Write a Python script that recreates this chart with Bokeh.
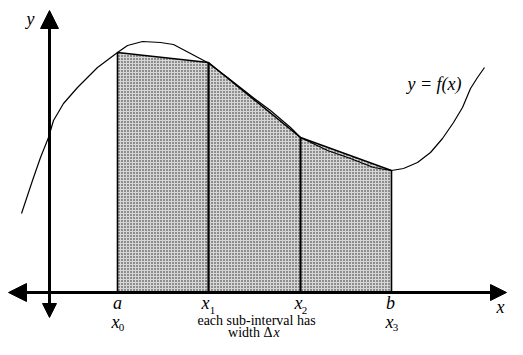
from bokeh.plotting import figure
from bokeh.models import Range1d, Arrow, NormalHead
from bokeh.core.properties import value
from bokeh.embed import file_html
from bokeh.resources import INLINE

# curve y = f(x)
curve_x = [-2.8, -1.7, -0.9, -0.1, 0.4, 1.4, 2.8, 4.8, 6.8, 7.8, 9.3, 11.1, 12.4,
           14.1, 15.8, 17.8, 20.1, 22.1, 24.1, 25.1, 27.8, 30.1, 32.4, 34.2, 35.4,
           36.8, 38.1, 39.3, 40.4, 41.3, 42.1, 42.8, 43.5]
curve_y = [7.9, 11.2, 13.5, 15.5, 17.2, 18.9, 20.5, 22.5, 24.0, 24.7, 25.1, 25.0, 24.8,
           23.9, 23.0, 21.5, 19.7, 18.2, 16.5, 15.5, 14.2, 13.4, 12.5, 12.2, 12.4,
           13.0, 14.0, 15.4, 17.0, 18.5, 20.4, 21.5, 22.5]

# partition points a = x0, x1, x2, b = x3 and trapezoid heights
node_x = [6.8, 15.9, 25.1, 34.2]
node_f = [24.0, 23.0, 15.5, 12.2]
node_w = [1.6, 2.2, 2.0, 1.6]

SERIF = value("Liberation Serif")

p = figure(width=507, height=339, x_range=Range1d(-4.9, 45.8), y_range=Range1d(-4.7, 29.2),
           output_backend="svg", toolbar_location=None, min_border=0)
p.axis.visible = False
p.grid.visible = False
p.outline_line_color = None
p.background_fill_color = "white"
p.border_fill_color = "white"

# shaded trapezoids
px = [node_x[0]] + node_x + [node_x[-1]]
py = [0] + node_f + [0]
p.patch(px, py, fill_color="#d6d6d6", hatch_pattern="dot", hatch_scale=3,
        hatch_color="#222222", hatch_weight=1.2, line_color=None)

# vertical sides
p.segment(x0=node_x, y0=[0] * 4, x1=node_x, y1=node_f, line_color="black", line_width=node_w)
# trapezoid tops
p.line(node_x, node_f, line_color="black", line_width=1.5)

# curve
p.line(curve_x, curve_y, line_color="black", line_width=1.2)

# axes with arrows
p.add_layout(Arrow(x_start=0, y_start=-2.5, x_end=0, y_end=28.2, line_width=3,
                   start=NormalHead(size=14, fill_color="black", line_color="black"),
                   end=NormalHead(size=18, fill_color="black", line_color="black")))
p.add_layout(Arrow(x_start=-4.1, y_start=0, x_end=45.7, y_end=0, line_width=3,
                   start=NormalHead(size=18, fill_color="black", line_color="black"),
                   end=NormalHead(size=16, fill_color="black", line_color="black")))

# axis labels
p.text(x=[-1.9], y=[27.4], text=["y"], text_font=SERIF, text_font_style="italic",
       text_font_size="18px", text_align="center", text_baseline="middle")
p.text(x=[45.1], y=[-1.4], text=["x"], text_font=SERIF, text_font_style="italic",
       text_font_size="18px", text_align="center", text_baseline="middle")

# y = f(x)
p.text(x=[38.5], y=[20.9], text=["y = f(x)"], text_font=SERIF, text_font_style="italic",
       text_font_size="18px", text_align="center", text_baseline="middle")

# top-row labels: a, x1, x2, b ; second row x0, x3
p.text(x=[6.8, 34.1], y=[-1.0, -1.0], text=["a", "b"], text_font=SERIF,
       text_font_style="italic", text_font_size="18px", text_align="center",
       text_baseline="middle")
p.text(x=[15.6, 24.9, 6.6, 34.0], y=[-1.0, -1.0, -2.9, -2.9], text=["x", "x", "x", "x"],
       text_font=SERIF, text_font_style="italic", text_font_size="18px",
       text_align="center", text_baseline="middle")
p.text(x=[16.3, 25.5, 7.2, 34.6], y=[-1.8, -1.8, -3.5, -3.5], text=["1", "2", "0", "3"],
       text_font=SERIF, text_font_size="11px", text_align="center", text_baseline="middle")

# explanation
p.text(x=[20.7], y=[-2.8], text=["each sub-interval has"], text_font=SERIF,
       text_font_size="14px", text_align="center", text_baseline="middle")
p.text(x=[22.3], y=[-3.95], text=["width Δ"], text_font=SERIF,
       text_font_size="14px", text_align="right", text_baseline="middle")
p.text(x=[22.4], y=[-3.95], text=["x"], text_font=SERIF, text_font_style="italic",
       text_font_size="14px", text_align="left", text_baseline="middle")

open("out.html", "w").write(file_html(p, INLINE))
